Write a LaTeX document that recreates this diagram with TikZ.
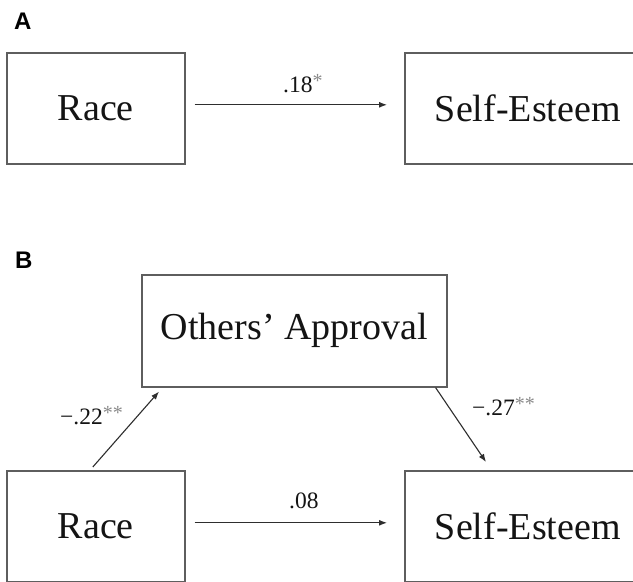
\documentclass[tikz,border=0pt]{standalone}
\usepackage{fontspec}
\setmainfont{Liberation Serif}
\newfontfamily\panelfont{Liberation Sans}
\usetikzlibrary{arrows.meta}
\definecolor{boxline}{HTML}{5E5E5E}
\definecolor{arrline}{HTML}{2E2E2E}
\definecolor{txt}{HTML}{141414}
\definecolor{ast}{HTML}{8A8A8A}
\newcommand{\sigmark}[1]{\raisebox{4.5pt}{\fontsize{20}{20}\selectfont\color{ast}#1}}
\begin{document}
\begin{tikzpicture}[x=1pt,y=-1pt,
  varbox/.style={draw=boxline, line width=1.6pt, minimum width=#1, minimum height=111pt,
    inner sep=0pt, anchor=north west, text=txt, font=\fontsize{38}{44}\selectfont},
  arr/.style={draw=arrline, line width=1.1pt, -{Latex[length=8pt,width=6pt]}},
  coef/.style={anchor=base west, inner sep=0pt, text=txt, font=\fontsize{23.5}{27}\selectfont},
  panel/.style={anchor=base west, inner sep=0pt, text=black, font=\panelfont\bfseries\fontsize{24}{28}\selectfont}
]
\useasboundingbox (0,0) rectangle (633,582);
\clip (0,0) rectangle (633,582);
\fill[white] (0,0) rectangle (633,582);

% Panel A
\node[panel] (labA) at (14,29) {A};
\node[varbox=178pt] (raceA) at (6,52) {Race};
\node[varbox=246pt] (seA) at (404,52) {Self-Esteem};
\draw[arr] ([xshift=9pt,yshift=3.5pt]raceA.east) -- ([xshift=-17pt,yshift=3.5pt]seA.west);
\node[coef] (cA) at (283,92) {.18\sigmark{*}};

% Panel B
\node[panel] (labB) at (15,268) {B};
\node[varbox=305pt, minimum height=112pt] (oa) at (141,274) {Others’ Approval};
\node[varbox=178pt] (raceB) at (6,470) {Race};
\node[varbox=246pt] (seB) at (404,470) {Self-Esteem};
\draw[arr] ([xshift=9pt,yshift=3.5pt]raceB.east) -- ([xshift=-17pt,yshift=3.5pt]seB.west);
\draw[arr] ([xshift=-3pt,yshift=3pt]raceB.north) -- ([xshift=18pt,yshift=-4pt]oa.south west);
\draw[arr] ([xshift=-12pt]oa.south east) -- ([xshift=82pt,yshift=8pt]seB.north west);
\node[coef] (cB1) at (289,508) {.08};
\node[coef] (cB2) at (60,424) {−.22\sigmark{**}};
\node[coef] (cB3) at (472,415) {−.27\sigmark{**}};
\end{tikzpicture}
\end{document}
